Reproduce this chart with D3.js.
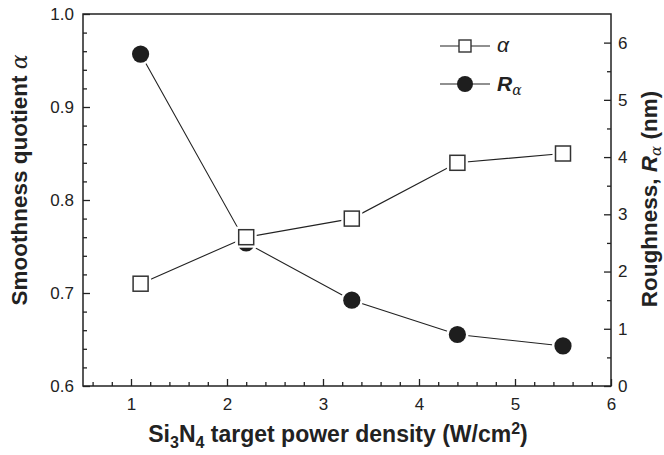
<!DOCTYPE html>
<html><head><meta charset="utf-8">
<script src="https://cdn.jsdelivr.net/npm/d3@7"></script>
<style>body{margin:0;background:#fff}svg{display:block}text{font-family:"Liberation Sans",Arial,sans-serif;fill:#222}</style>
</head><body>
<svg id="c" width="664" height="455"></svg>
<script>
const powerDensity = [1.1, 2.2, 3.3, 4.4, 5.5];
const alphaVals = [0.71, 0.76, 0.78, 0.84, 0.85];
const raVals = [5.8, 2.5, 1.5, 0.9, 0.7];
const xTicks = [1, 2, 3, 4, 5, 6];
const leftTicks = [0.6, 0.7, 0.8, 0.9, 1.0];
const rightTicks = [0, 1, 2, 3, 4, 5, 6];

const svg = d3.select("#c");
const L = 83, R = 611, T = 14, B = 386;
const x = d3.scaleLinear().domain([0.5, 6]).range([L, R]);
const yL = d3.scaleLinear().domain([0.6, 1.0]).range([B, T]);
const yR = d3.scaleLinear().domain([0, 6.5]).range([B, T]);
const ink = "#222";
const FONT = "Liberation Sans, Arial, sans-serif";

// frame
svg.append("rect").attr("x", L).attr("y", T).attr("width", R - L).attr("height", B - T)
  .attr("fill", "none").attr("stroke", ink).attr("stroke-width", 1.5);

function style(g) {
  g.selectAll(".domain").remove();
  g.selectAll("line").attr("stroke", ink).attr("stroke-width", 1.3);
  g.selectAll("text").attr("font-size", 17).attr("fill", ink).attr("font-family", FONT);
}

// bottom axis
const xMinor = d3.range(0.6, 5.99, 0.2).filter(v => Math.abs(v - Math.round(v)) > 1e-6);
const gx = svg.append("g").attr("transform", `translate(0,${B})`);
gx.call(d3.axisBottom(x).tickValues(xMinor).tickSize(-4).tickFormat(""));
gx.append("g").call(d3.axisBottom(x).tickValues(xTicks).tickSize(-7).tickPadding(12).tickFormat(d3.format("d")));
style(gx);

// left axis
const lMinor = d3.range(0.62, 0.999, 0.02).filter(v => Math.abs(v * 10 - Math.round(v * 10)) > 1e-6);
const gl = svg.append("g").attr("transform", `translate(${L},0)`);
gl.call(d3.axisLeft(yL).tickValues(lMinor).tickSize(-4).tickFormat(""));
gl.append("g").call(d3.axisLeft(yL).tickValues(leftTicks).tickSize(-7).tickPadding(9).tickFormat(d3.format(".1f")));
style(gl);

// right axis
const rMinor = d3.range(0.5, 6.4, 1);
const gr = svg.append("g").attr("transform", `translate(${R},0)`);
gr.call(d3.axisRight(yR).tickValues(rMinor).tickSize(-4).tickFormat(""));
gr.append("g").call(d3.axisRight(yR).tickValues(rightTicks).tickSize(-7).tickPadding(7).tickFormat(d3.format("d")));
style(gr);

// lines
const alphaData = powerDensity.map((p, i) => [p, alphaVals[i]]);
const raData = powerDensity.map((p, i) => [p, raVals[i]]);
svg.append("path").datum(alphaData).attr("fill", "none").attr("stroke", ink).attr("stroke-width", 1.1)
  .attr("d", d3.line().x(d => x(d[0])).y(d => yL(d[1])));
svg.append("path").datum(raData).attr("fill", "none").attr("stroke", ink).attr("stroke-width", 1.1)
  .attr("d", d3.line().x(d => x(d[0])).y(d => yR(d[1])));

// circles
const gc = svg.append("g");
gc.selectAll(".h").data(raData).join("circle").attr("cx", d => x(d[0])).attr("cy", d => yR(d[1])).attr("r", 11).attr("fill", "#fff");
gc.selectAll(".m").data(raData).join("circle").attr("cx", d => x(d[0])).attr("cy", d => yR(d[1])).attr("r", 8.6).attr("fill", "#1e1e1e");
// squares
const s = 15;
const gs = svg.append("g");
gs.selectAll(".h").data(alphaData).join("rect").attr("x", d => x(d[0]) - s / 2 - 3).attr("y", d => yL(d[1]) - s / 2 - 3)
  .attr("width", s + 6).attr("height", s + 6).attr("fill", "#fff");
gs.selectAll(".m").data(alphaData).join("rect").attr("x", d => x(d[0]) - s / 2).attr("y", d => yL(d[1]) - s / 2)
  .attr("width", s).attr("height", s).attr("fill", "#fff").attr("stroke", "#333").attr("stroke-width", 1.5);

// legend
const lg = svg.append("g");
const legRows = [{y: 46, type: "sq"}, {y: 84, type: "ci"}];
legRows.forEach(r => {
  lg.append("line").attr("x1", 440).attr("x2", 490).attr("y1", r.y).attr("y2", r.y).attr("stroke", ink).attr("stroke-width", 1.1);
  if (r.type === "sq") {
    lg.append("rect").attr("x", 465 - 6).attr("y", r.y - 6).attr("width", 12).attr("height", 12).attr("fill", "#fff").attr("stroke", "#333").attr("stroke-width", 1.4);
  } else {
    lg.append("circle").attr("cx", 465).attr("cy", r.y).attr("r", 8).attr("fill", "#1e1e1e");
  }
});
lg.append("text").attr("x", 497).attr("y", 52).attr("font-size", 21).attr("font-style", "italic")
  .attr("font-family", "DejaVu Serif, serif").text("α");
const raT = lg.append("text").attr("x", 497).attr("y", 91).attr("font-size", 21);
raT.append("tspan").attr("font-weight", "bold").attr("font-style", "italic").text("R");
raT.append("tspan").attr("font-size", 14).attr("font-style", "italic").attr("font-family", "DejaVu Serif, serif").attr("dy", 4).text("α");

// axis titles
const xt = svg.append("text").attr("x", 338).attr("y", 442).attr("text-anchor", "middle").attr("font-size", 23).attr("font-weight", "bold");
xt.append("tspan").text("Si");
xt.append("tspan").attr("font-size", 16).attr("dy", 6).text("3");
xt.append("tspan").attr("dy", -6).text("N");
xt.append("tspan").attr("font-size", 16).attr("dy", 6).text("4");
xt.append("tspan").attr("dy", -6).text(" target power density (W/cm");
xt.append("tspan").attr("font-size", 16).attr("dy", -8).text("2");
xt.append("tspan").attr("dy", 8).text(")");

const yt = svg.append("text").attr("transform", "translate(27,180) rotate(-90)").attr("text-anchor", "middle").attr("font-size", 22.5).attr("font-weight", "bold");
yt.append("tspan").text("Smoothness quotient ");
yt.append("tspan").attr("font-weight", "normal").attr("font-style", "italic").attr("font-family", "DejaVu Serif, serif").attr("font-size", 22).text("α");

const rt = svg.append("text").attr("transform", "translate(657,199) rotate(-90)").attr("text-anchor", "middle").attr("font-size", 22.5).attr("font-weight", "bold");
rt.append("tspan").text("Roughness, ");
rt.append("tspan").attr("font-style", "italic").text("R");
rt.append("tspan").attr("font-weight", "normal").attr("font-style", "italic").attr("font-family", "DejaVu Serif, serif").attr("font-size", 15).attr("dy", 4).text("α");
rt.append("tspan").attr("dy", -4).text(" (nm)");
</script>
</body></html>
